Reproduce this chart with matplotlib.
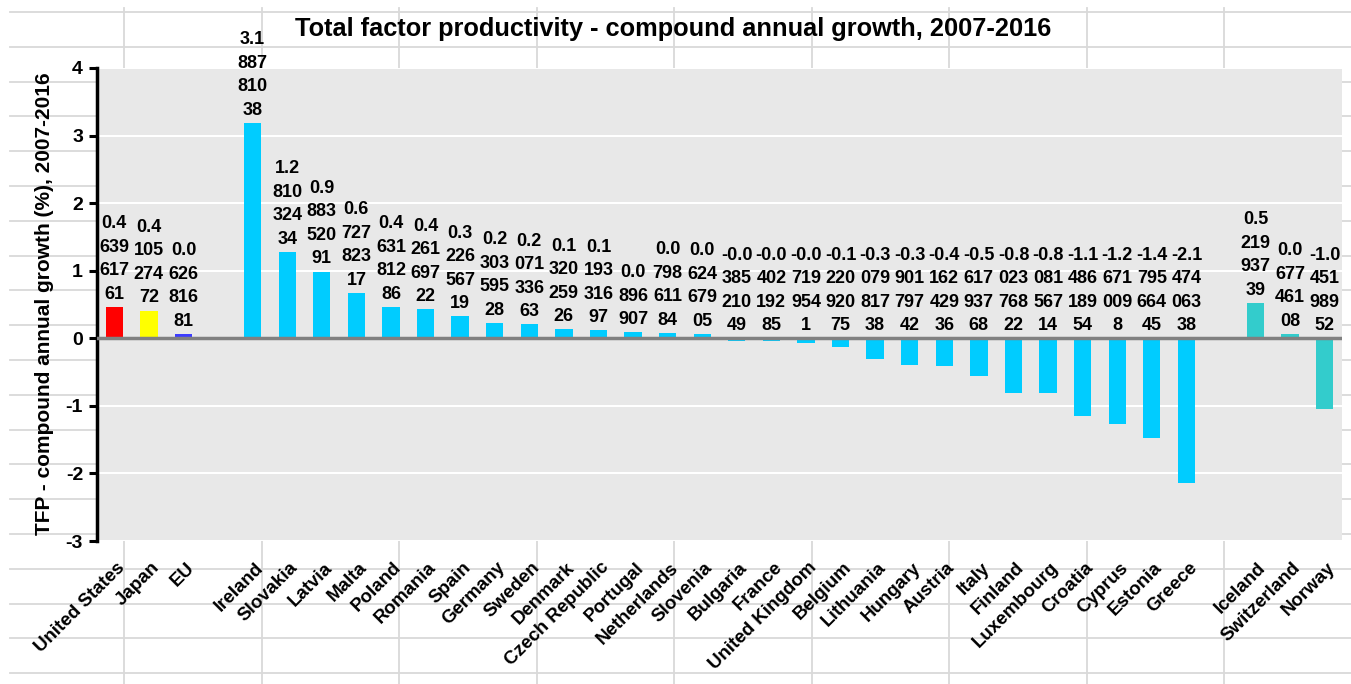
import matplotlib
matplotlib.use("Agg")
import matplotlib.pyplot as plt
from matplotlib.transforms import ScaledTranslation
from matplotlib import font_manager

plt.rcParams['font.family'] = ['Liberation Sans', 'DejaVu Sans']

# Данные: три группы стран
bench_names = ["United States", "Japan", "EU"]
bench_values = [0.463961761, 0.410527472, 0.062681681]
bench_colors = ["#ff0000", "#ffff00", "#3c3cff"]

eu_names = ["Ireland", "Slovakia", "Latvia", "Malta", "Poland", "Romania", "Spain",
            "Germany", "Sweden", "Denmark", "Czech Republic", "Portugal", "Netherlands",
            "Slovenia", "Bulgaria", "France", "United Kingdom", "Belgium", "Lithuania",
            "Hungary", "Austria", "Italy", "Finland", "Luxembourg", "Croatia", "Cyprus",
            "Estonia", "Greece"]
eu_values = [3.188781038, 1.281032434, 0.988352091, 0.672782317, 0.463181286,
             0.426169722, 0.322656719, 0.230359528, 0.207133663, 0.132025926,
             0.119331697, 0.0896907, 0.079861184, 0.062467905, -0.038521049,
             -0.040219285, -0.07199541, -0.122092075, -0.307981738, -0.390179742,
             -0.416242936, -0.561793768, -0.802376822, -0.808156714, -1.148618954,
             -1.26710098, -1.479566445, -2.147406338]
eu_color = "#00ccff"

efta_names = ["Iceland", "Switzerland", "Norway"]
efta_values = [0.521993739, 0.067746108, -1.045198952]
efta_color = "#33cccc"

y_ticks = [-3, -2, -1, 0, 1, 2, 3, 4]
title = "Total factor productivity - compound annual growth, 2007-2016"
ylabel = "TFP - compound annual growth (%), 2007-2016"

# Узкий шрифт для подписей значений, если он установлен
installed = {f.name for f in font_manager.fontManager.ttflist}
if "Liberation Sans Narrow" in installed:
    label_family, label_size = ["Liberation Sans Narrow", "DejaVu Sans"], 15
else:
    label_family, label_size = ["Liberation Sans", "DejaVu Sans"], 13


# Подпись значения, разбитая по 3 символа (как в Excel)
def wrap_label(v):
    s = repr(abs(v))
    chunks = [s[i:i + 3] for i in range(0, len(s), 3)]
    if v < 0:
        chunks[0] = "-" + chunks[0]
    return "\n".join(chunks)


W, H = 1351, 684
fig = plt.figure(figsize=(W / 100, H / 100), dpi=100)

# Фон: сетка электронной таблицы
bg = fig.add_axes([0, 0, 1, 1], zorder=0)
bg.set_xlim(0, W)
bg.set_ylim(H, 0)
bg.axis("off")
for k in range(20):
    y = 12 + 34.8 * k
    bg.plot([10, W], [y, y], color="#d9d9d9", lw=1.3)
for k in range(9):
    x = 124 + 137.5 * k
    bg.plot([x, x], [8, H], color="#d9d9d9", lw=1.3)

ax = fig.add_axes([97 / W, 1 - 541 / H, 1245 / W, 473 / H], zorder=1)
ax.set_facecolor("#e8e8e8")

# Позиции столбцов: пустая ячейка между группами
names, values, colors, xs = [], [], [], []
pos = 0
for grp_names, grp_values, grp_colors in [
        (bench_names, bench_values, bench_colors),
        (eu_names, eu_values, [eu_color] * len(eu_names)),
        (efta_names, efta_values, [efta_color] * len(efta_names))]:
    for n, v, c in zip(grp_names, grp_values, grp_colors):
        names.append(n)
        values.append(v)
        colors.append(c)
        xs.append(pos)
        pos += 1
    pos += 1

ax.bar(xs, values, width=0.5, color=colors, zorder=3)
ax.axhline(0, color="#808080", lw=2.5, zorder=4)
for y in y_ticks:
    if y != 0:
        ax.axhline(y, color="white", lw=1.5, zorder=1)

for x, v in zip(xs, values):
    ax.annotate(wrap_label(v), xy=(x, max(v, 0)), xytext=(0, 3),
                textcoords="offset points", ha="center", va="bottom",
                family=label_family, fontsize=label_size, fontweight="bold",
                linespacing=1.5, annotation_clip=False, zorder=5)

ax.set_xlim(-0.5, pos - 1.5)
ax.set_ylim(-3, 4)
ax.set_yticks(y_ticks)
ax.set_yticklabels([str(t) for t in y_ticks], fontsize=14, fontweight="bold")
ax.set_xticks(xs)
ax.set_xticklabels(names, rotation=45, ha="right", va="top", rotation_mode="anchor",
                   fontsize=13.5, fontweight="bold")
ax.tick_params(axis="x", length=0, pad=13)
ax.tick_params(axis="y", length=6, width=2.2, direction="out", pad=4)
shift = ScaledTranslation(2 / 100, 0, fig.dpi_scale_trans)
for lab in ax.get_xticklabels():
    lab.set_transform(lab.get_transform() + shift)
for s in ["top", "right", "bottom"]:
    ax.spines[s].set_visible(False)
ax.spines["left"].set_linewidth(2.5)

fig.text(673 / W, 1 - 29 / H, title, ha="center", va="center",
         fontsize=18.3, fontweight="bold")
fig.text(45 / W, 1 - 304 / H, ylabel, ha="center", va="center", rotation=90,
         fontsize=15, fontweight="bold")

fig.savefig("out.png", dpi=100)
